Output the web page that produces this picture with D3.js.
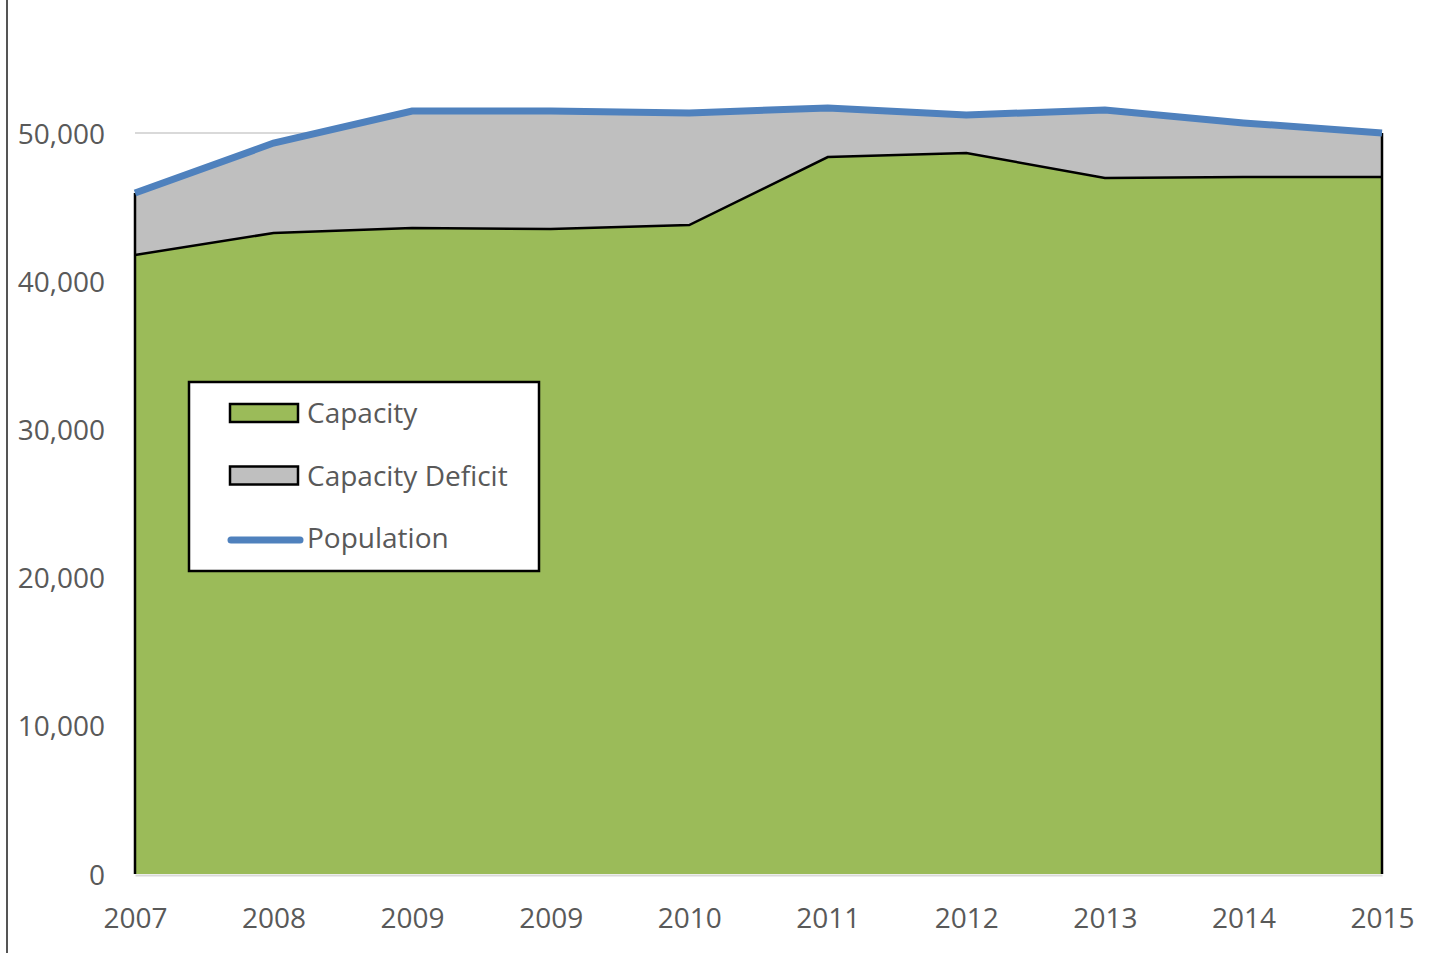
<!DOCTYPE html>
<html>
<head>
<meta charset="utf-8">
<script src="https://cdn.jsdelivr.net/npm/d3@7"></script>
<style>
  body { margin: 0; background: #fff; }
  svg { display: block; }
  text { font-family: "Open Sans", "Liberation Sans", sans-serif; fill: #595959; }
</style>
</head>
<body>
<div id="vis"></div>
<script>
// chart data
var years = ["2007", "2008", "2009", "2009", "2010", "2011", "2012", "2013", "2014", "2015"];
var population = [45950, 49320, 51480, 51480, 51350, 51690, 51220, 51550, 50680, 50000];
var capacity = [41770, 43250, 43590, 43520, 43790, 48380, 48650, 46960, 47030, 47030];
var yTicks = [0, 10000, 20000, 30000, 40000, 50000];
var legendItems = ["Capacity", "Capacity Deficit", "Population"];

var width = 1447;
var height = 953;

var svg = d3.select("#vis")
  .append("svg")
  .attr("width", width)
  .attr("height", height);

var rows = years.map(function(y, i) {
  return { i: i, year: y, pop: population[i], cap: capacity[i] };
});

var x = d3.scalePoint()
  .domain(d3.range(years.length))
  .range([135, 1382]);

var y = d3.scaleLinear()
  .domain([0, 50000])
  .range([874, 133]);

// frame edge on the left
svg.append("line")
  .attr("x1", 7).attr("x2", 7)
  .attr("y1", 0).attr("y2", height)
  .attr("stroke", "#555")
  .attr("stroke-width", 2);

// gridlines
svg.append("g")
  .selectAll("line")
  .data(yTicks.slice(1))
  .enter()
  .append("line")
  .attr("x1", 135).attr("x2", 1382)
  .attr("y1", function(d){ return y(d); })
  .attr("y2", function(d){ return y(d); })
  .attr("stroke", "#d9d9d9")
  .attr("stroke-width", 2);

// y axis labels
var yAxis = d3.axisLeft(y)
  .tickValues(yTicks)
  .tickSize(0)
  .tickPadding(0)
  .tickFormat(d3.format(","));
var yg = svg.append("g")
  .attr("transform", "translate(105,0)")
  .call(yAxis);
yg.select(".domain").remove();
yg.selectAll("text")
  .attr("font-size", 28)
  .attr("dy", "0.36em")
  .attr("fill", "#595959");

// x axis
var xAxis = d3.axisBottom(x)
  .tickSize(0)
  .tickPadding(0)
  .tickFormat(function(i){ return years[i]; });
var xg = svg.append("g")
  .attr("transform", "translate(0,875)")
  .call(xAxis);
xg.select(".domain")
  .attr("stroke", "#d9d9d9")
  .attr("stroke-width", 2);
xg.selectAll("text")
  .attr("font-size", 28)
  .attr("dy", 0)
  .attr("y", 53)
  .attr("fill", "#595959");

// deficit area (stacked between capacity and population)
var deficitArea = d3.area()
  .x(function(d){ return x(d.i); })
  .y0(function(d){ return y(d.cap); })
  .y1(function(d){ return y(d.pop); });

var capArea = d3.area()
  .x(function(d){ return x(d.i); })
  .y0(y(0))
  .y1(function(d){ return y(d.cap); });

svg.append("path")
  .datum(rows)
  .attr("d", deficitArea)
  .attr("fill", "#bfbfbf");

svg.append("path")
  .datum(rows)
  .attr("d", capArea)
  .attr("fill", "#9bbb59");

// black outlines
var capLine = d3.line()
  .x(function(d){ return x(d.i); })
  .y(function(d){ return y(d.cap); });

svg.append("path")
  .datum(rows)
  .attr("d", capLine)
  .attr("fill", "none")
  .attr("stroke", "#000")
  .attr("stroke-width", 2.5);

var ends = [rows[0], rows[rows.length - 1]];
svg.append("g")
  .selectAll("line")
  .data(ends)
  .enter()
  .append("line")
  .attr("x1", function(d){ return x(d.i); })
  .attr("x2", function(d){ return x(d.i); })
  .attr("y1", y(0))
  .attr("y2", function(d){ return y(d.pop); })
  .attr("stroke", "#000")
  .attr("stroke-width", 2.5);

// population line
var popLine = d3.line()
  .x(function(d){ return x(d.i); })
  .y(function(d){ return y(d.pop); });

svg.append("path")
  .datum(rows)
  .attr("d", popLine)
  .attr("fill", "none")
  .attr("stroke", "#4f81bd")
  .attr("stroke-width", 7);

// legend
var legend = svg.append("g")
  .attr("transform", "translate(189,382)");

legend.append("rect")
  .attr("width", 350)
  .attr("height", 189)
  .attr("fill", "#fff")
  .attr("stroke", "#000")
  .attr("stroke-width", 2.5);

var fills = ["#9bbb59", "#bfbfbf"];
legendItems.forEach(function(name, i) {
  var cy = 31 + i * 62.5;
  if (i < 2) {
    legend.append("rect")
      .attr("x", 41)
      .attr("y", cy - 9)
      .attr("width", 68)
      .attr("height", 18)
      .attr("fill", fills[i])
      .attr("stroke", "#000")
      .attr("stroke-width", 2.5);
  } else {
    legend.append("line")
      .attr("x1", 42).attr("x2", 111)
      .attr("y1", cy + 2).attr("y2", cy + 2)
      .attr("stroke", "#4f81bd")
      .attr("stroke-width", 7)
      .attr("stroke-linecap", "round");
  }
  legend.append("text")
    .attr("x", 118)
    .attr("y", cy)
    .attr("dy", "0.36em")
    .attr("font-size", 28)
    .text(name);
});
</script>
</body>
</html>
